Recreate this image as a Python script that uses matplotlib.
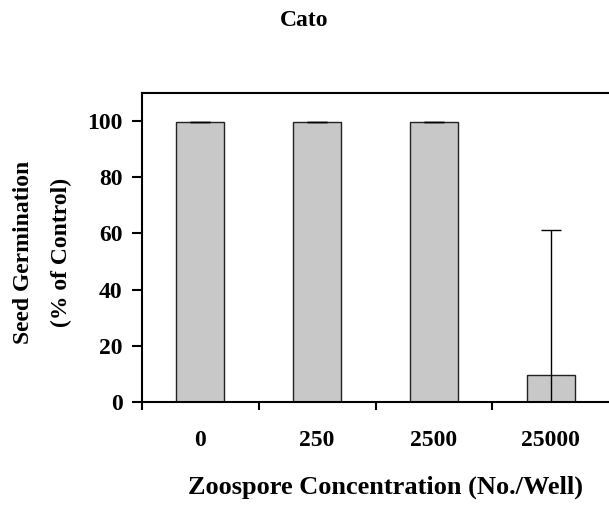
import numpy as np
import matplotlib
matplotlib.use("Agg")
import matplotlib.pyplot as plt

categories = ["0", "250", "2500", "25000"]
germination = [99.6, 99.6, 99.6, 9.5]
err = [0.0, 0.0, 0.0, 51.7]

plt.rcParams['font.family'] = ['Liberation Serif', 'DejaVu Serif']
plt.rcParams['font.weight'] = 'bold'

fig = plt.figure(figsize=(6.09, 5.08), dpi=100)
ax = fig.add_axes([142/609, 106/508, 1 - 142/609, 309/508])

x = np.arange(len(categories))
ax.bar(x, germination, width=0.41, color="#c8c8c8", edgecolor="#222222", linewidth=1.0,
       yerr=err, capsize=7, error_kw=dict(ecolor="black", elinewidth=1.0, capthick=1.0))

ax.set_xlim(-0.5, 3.5)
ax.set_ylim(0, 110)
ax.set_yticks(np.arange(0, 101, 20))

# category boundaries carry the tick marks, labels sit at bar centres
ax.set_xticks(np.arange(-0.5, 3.0, 1.0))
ax.set_xticklabels([])
ax.set_xticks(x, minor=True)
ax.set_xticklabels(categories, minor=True, fontsize=17, fontweight='bold')
ax.tick_params(axis='x', which='minor', length=0, pad=20)
ax.tick_params(axis='x', which='major', length=6, width=1.5, direction='out')
ax.tick_params(axis='y', length=7, width=1.5, direction='out', pad=7, labelsize=17)
for lab in ax.get_yticklabels():
    lab.set_fontweight('bold')

for s in ['left', 'bottom', 'top']:
    ax.spines[s].set_linewidth(1.5)
ax.spines['right'].set_visible(False)

fig.text(0.5, 1 - 21/508, "Cato", ha='center', va='center', fontsize=17, fontweight='bold')
fig.text(24/609, 1 - 252/508, "Seed Germination", rotation=90, ha='center', va='center',
         fontsize=17, fontweight='bold')
fig.text(61/609, 1 - 252/508, "(% of Control)", rotation=90, ha='center', va='center',
         fontsize=17, fontweight='bold')
fig.text(385/609, 1 - 487/508, "Zoospore Concentration (No./Well)", ha='center', va='center',
         fontsize=19, fontweight='bold')

fig.savefig("out.png", dpi=100)
